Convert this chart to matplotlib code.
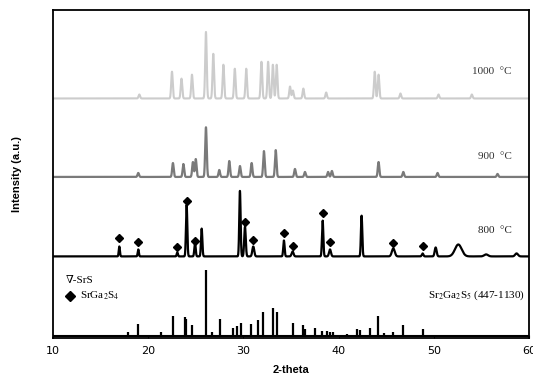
import numpy as np
import matplotlib
matplotlib.use("Agg")
import matplotlib.pyplot as plt

plt.rcParams["mathtext.fontset"] = "stix"

# reference pattern Sr2Ga2S5 (447-1130): 2-theta and relative height
ref_pos = [17.85, 18.96, 21.35, 22.57, 23.87, 24.0, 24.57, 26.04, 26.74, 27.54,
           28.87, 29.29, 29.7, 30.77, 31.5, 32.09, 33.07, 33.56, 35.17, 36.22,
           36.47, 37.52, 38.22, 38.75, 39.1, 39.38, 40.91, 41.97, 42.25, 43.3,
           44.17, 44.77, 45.75, 46.73, 48.9]
ref_int = [4, 12, 4, 20, 19, 17, 11, 66, 4, 17,
           8, 10, 13, 12, 16, 24, 28, 24, 13, 11,
           7, 8, 5, 5, 4, 4, 2, 7, 6, 8,
           20, 3, 4, 11, 7]

# 800 C sample
p800_pos = [16.97, 18.96, 23.06, 24.04, 24.92, 25.62, 29.64, 30.17, 31.04, 34.26,
            35.17, 38.33, 39.1, 42.42, 45.75, 48.83, 50.2, 52.58, 55.5, 58.7]
p800_int = [10, 7, 4, 52, 14, 28, 66, 30, 10, 16,
            5, 36, 7, 41, 8, 3, 9, 12, 2, 3]
p800_wid = [0.06, 0.06, 0.06, 0.07, 0.07, 0.07, 0.07, 0.08, 0.1, 0.07,
            0.1, 0.07, 0.1, 0.07, 0.15, 0.08, 0.1, 0.35, 0.2, 0.15]
# SrGa2S4 markers (diamonds) above 800 C peaks
dia_pos = [16.97, 18.96, 23.06, 24.04, 24.92, 30.17, 31.04, 34.26, 35.17, 38.33, 39.1, 45.75, 48.83]
dia_int = [19, 14, 9, 56, 16, 35, 17, 24, 10, 44, 14, 13, 10]

# 900 C sample
p900_pos = [18.96, 22.6, 23.7, 24.7, 25.0, 26.07, 27.47, 28.52, 29.64, 30.87,
            32.16, 33.4, 35.42, 36.47, 38.9, 39.3, 44.2, 46.8, 50.4, 56.7]
p900_int = [4, 14, 13, 15, 18, 50, 7, 16, 11, 14,
            26, 27, 8, 5, 5, 6, 15, 5, 4, 3]

# 1000 C sample
p1000_pos = [19.07, 22.5, 23.5, 24.6, 26.07, 26.84, 27.9, 29.1, 30.3, 31.9,
             32.6, 33.1, 33.5, 34.9, 35.2, 36.3, 38.7, 43.8, 44.2, 46.5, 50.5, 54.0]
p1000_int = [4, 27, 20, 24, 67, 45, 34, 30, 30, 37,
             37, 34, 34, 12, 8, 10, 6, 27, 24, 5, 4, 4]

offsets = {"ref": 0, "800": 80, "900": 160, "1000": 239}


def profile(x, pos, hts, wid):
    y = np.zeros_like(x)
    for p, h, w in zip(pos, hts, wid):
        y += h * np.exp(-0.5 * ((x - p) / w) ** 2)
    return y


x = np.linspace(10, 60, 6000)

fig = plt.figure(figsize=(5.33, 3.87), dpi=100)
ax = fig.add_axes([0.0994, 0.127, 0.893, 0.847])

y1000 = profile(x, p1000_pos, p1000_int, [0.08] * len(p1000_pos)) + offsets["1000"]
y900 = profile(x, p900_pos, p900_int, [0.08] * len(p900_pos)) + offsets["900"]
y800 = profile(x, p800_pos, p800_int, p800_wid) + offsets["800"]

ax.plot(x, y1000, color="#cccccc", lw=1.5)
ax.plot(x, y900, color="#7a7a7a", lw=1.6)
ax.plot(x, y800, color="black", lw=1.6)
ax.plot(dia_pos, np.array(dia_int) + offsets["800"], "D", color="black", ms=4)

ax.vlines(ref_pos, 0, ref_int, color="black", lw=1.6)
ax.axhline(0, color="black", lw=1.5)

serif = ["Liberation Serif", "DejaVu Serif"]
ax.text(58.2, 266, "1000  \u00b0C", ha="right", va="center", fontsize=8, family=serif, color="#333333")
ax.text(58.2, 181, "900  \u00b0C", ha="right", va="center", fontsize=8, family=serif, color="#333333")
ax.text(58.2, 106, "800  \u00b0C", ha="right", va="center", fontsize=8, family=serif, color="#222222")
ax.text(11.3, 56, "\u2207-SrS", ha="left", va="center", fontsize=8, family=serif)
ax.plot([11.8], [40], "D", color="black", ms=5)
ax.text(12.8, 40, "SrGa$_2$S$_4$", ha="left", va="center", fontsize=8, family=serif)
ax.text(59.6, 41, "Sr$_2$Ga$_2$S$_5$ (447-1130)", ha="right", va="center", fontsize=8, family=serif)

ax.set_xlim(10, 60)
ax.set_ylim(-2, 328)
ax.set_xticks([10, 20, 30, 40, 50, 60])
ax.set_yticks([])
ax.tick_params(axis="x", direction="in", length=2, labelsize=8, pad=6)
for s in ax.spines.values():
    s.set_linewidth(1.3)

ax.set_xlabel("2-theta", fontsize=8, fontweight="bold", family="Liberation Sans", labelpad=6)
ax.set_ylabel("Intensity (a.u.)", fontsize=8, fontweight="bold", family="Liberation Sans", labelpad=22)

fig.savefig("out.png", dpi=100)
